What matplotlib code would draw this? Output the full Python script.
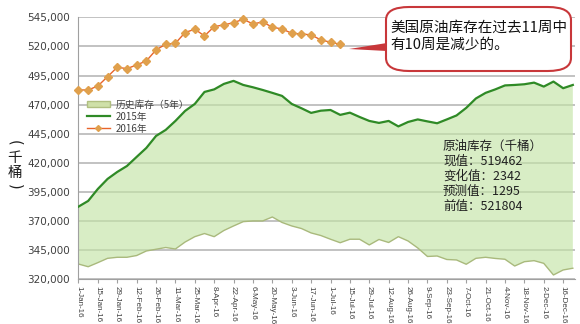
import numpy as np
import pandas as pd
import matplotlib
matplotlib.use("Agg")
import matplotlib.pyplot as plt
import matplotlib.dates as mdates
from matplotlib.patches import FancyBboxPatch, Polygon, Patch
from matplotlib.lines import Line2D

plt.rcParams['font.family'] = ['Noto Sans CJK SC', 'DejaVu Sans']

# weekly crude stocks, thousand barrels
weeks = pd.date_range('2016-01-01', periods=52, freq='7D')

stock_2015 = [382400, 387300, 397600, 406200, 412200, 417300, 425100, 432800,
              443100, 448300, 456000, 464600, 470600, 480900, 483100, 487800,
              490400, 486900, 484900, 482600, 480100, 477500, 470600, 466900,
              462900, 464800, 465400, 461200, 463100, 459400, 456000, 454300,
              456000, 451300, 455100, 457300, 455600, 454000, 457300, 460700,
              467200, 475300, 480100, 483100, 486500, 486900, 487500, 488900,
              485500, 489800, 484100, 486900]

hist_low = [333100, 330800, 334300, 338000, 338900, 338900, 340400, 344300,
            345800, 347300, 346000, 352000, 356600, 359300, 356600, 361900,
            365800, 369500, 370100, 370100, 373500, 368800, 365800, 363600,
            359800, 357600, 354400, 351400, 354400, 354400, 349500, 354200,
            351600, 356600, 352900, 346900, 339600, 340000, 337000, 336600,
            332900, 338000, 338900, 337900, 337200, 331400, 335100, 336000,
            333700, 323700, 328000, 329500]

stock_2016 = [482600, 482600, 486000, 494000, 502100, 500900, 504100, 507500,
              517000, 521900, 522700, 531900, 534800, 529000, 537000, 538500,
              540400, 543300, 539300, 541000, 536500, 535000, 531300, 530700,
              529900, 525600, 523600, 521804]

yticks = np.arange(320000, 545001, 25000)

fig = plt.figure(figsize=(5.8, 3.24), dpi=100)
ax = fig.add_axes([0.1353, 0.138, 0.8557, 0.8086])

for v in yticks:
    ax.axhline(v, color='#b8b8b8', lw=1.2, zorder=0)

ax.fill_between(weeks, hist_low, stock_2015, facecolor='#c4e4a6', alpha=0.65,
                edgecolor='none', zorder=1)
ax.plot(weeks, hist_low, color='#a9b97c', lw=1.0, zorder=2)
ax.plot(weeks, stock_2015, color='#2f8a26', lw=1.6, zorder=3)
ax.plot(weeks[:len(stock_2016)], stock_2016, color='#e8642a', lw=1.0,
        marker='D', ms=3.8, mfc='#e0a04c', mec='#e0a04c', zorder=4, clip_on=False)

ax.set_ylim(320000, 545000)
ax.set_xlim(weeks[0], weeks[0] + pd.Timedelta(days=7 * 51.2))
ax.set_yticks(yticks)
ax.set_yticklabels(['{:,}'.format(v) for v in yticks], fontsize=7.5, color='#404040',
                   family='DejaVu Sans')
ax.set_xticks(weeks[::2])
ax.xaxis.set_major_formatter(mdates.DateFormatter('%-d-%b-%y'))
plt.setp(ax.get_xticklabels(), rotation=270, fontsize=5.8, color='#404040',
         family='Liberation Sans')
ax.tick_params(axis='y', length=0, pad=6)
ax.tick_params(axis='x', length=3, color='#a0a0a0', pad=1.5)

for s in ['top', 'right']:
    ax.spines[s].set_visible(False)
ax.spines['left'].set_color('#a0a0a0')
ax.spines['bottom'].set_color('#a0a0a0')

# vertical axis title, brackets turned to sit above and below
for ch, rot, yy, fam in [('(', 270, 143, 'DejaVu Sans'), ('千', 0, 158, 'Noto Sans CJK SC'),
                         ('桶', 0, 173, 'Noto Sans CJK SC'), (')', 270, 187, 'DejaVu Sans')]:
    fig.text(15 / 580, 1 - yy / 324, ch, fontsize=10.5, ha='center', va='center',
             rotation=rot, color='#202020', family=fam)

handles = [Patch(facecolor='#cfe0a8', edgecolor='#b0bf80'),
           Line2D([], [], color='#2f8a26', lw=1.6),
           Line2D([], [], color='#e8642a', lw=1.0, marker='D', ms=3, mfc='#e0a04c', mec='#e0a04c')]
fig.legend(handles, ['历史库存（5年）', '2015年', '2016年'], loc='upper left',
           bbox_to_anchor=(80 / 580, 1 - 93 / 324), frameon=False, fontsize=7,
           handlelength=2.4, handleheight=0.6, labelspacing=0.2, labelcolor='#404040',
           borderpad=0.2, handletextpad=0.6)

info = '原油库存（千桶）\n现值：519462\n变化值：2342\n预测值：1295\n前值：521804'
fig.text(443 / 580, 1 - 140 / 324, info, fontsize=9, va='top', ha='left',
         linespacing=1.2, color='#202020')

# callout box with pointer towards the latest week
box = FancyBboxPatch((386 / 580, 1 - 71 / 324), 185 / 580, 64 / 324,
                     boxstyle='round,pad=0,rounding_size=0.04', transform=fig.transFigure,
                     facecolor='white', edgecolor='#c8373a', lw=1.5, zorder=10)
fig.patches.append(box)
tail = Polygon([(349 / 580, 1 - 49 / 324), (387 / 580, 1 - 43 / 324), (387 / 580, 1 - 51 / 324)],
               closed=True, transform=fig.transFigure, facecolor='#c8373a',
               edgecolor='none', zorder=9)
fig.patches.append(tail)
fig.text(390 / 580, 1 - 36 / 324, '美国原油库存在过去11周中\n有10周是减少的。', fontsize=10.5,
         va='center', ha='left', linespacing=1.25, color='#111111', zorder=11)

fig.savefig('out.png', dpi=100)
